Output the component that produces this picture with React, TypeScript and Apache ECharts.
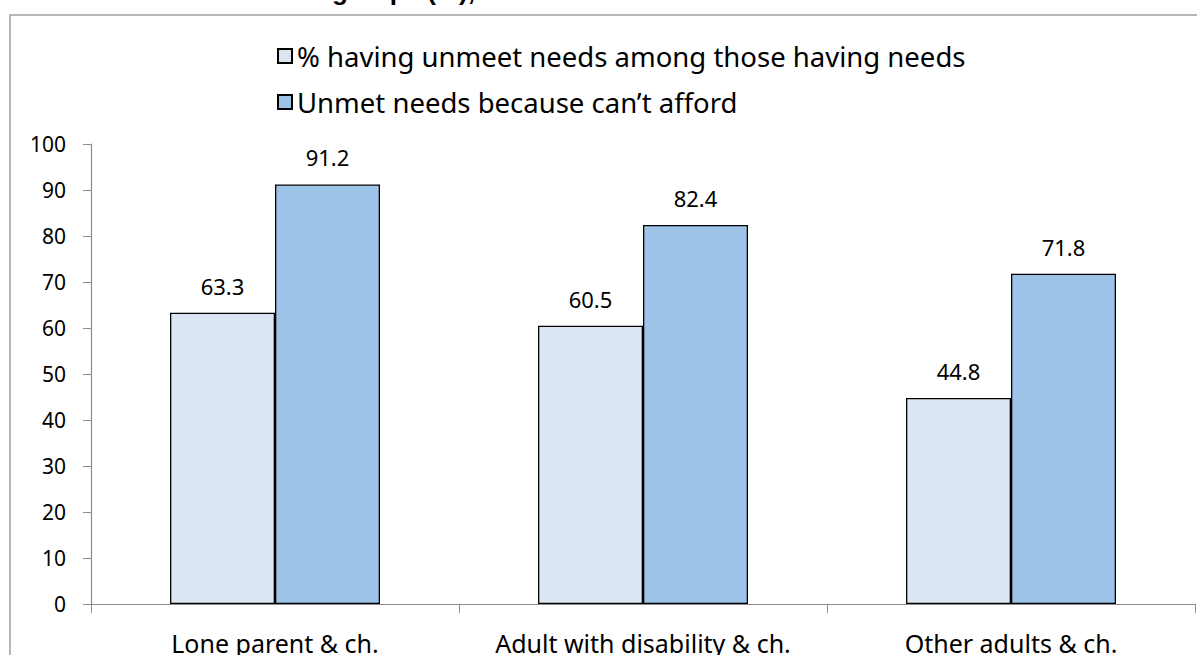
import React, { useEffect, useRef } from "react";
import * as echarts from "echarts";

const categories = ["Lone parent & ch.", "Adult with disability & ch.", "Other adults & ch."];
const seriesNames = ["% having unmeet needs among those having needs", "Unmet needs because can\u2019t afford"];
const unmetAmongNeeds = [63.3, 60.5, 44.8];
const cantAfford = [91.2, 82.4, 71.8];
const titleText = "Unmet needs across social groups (%), 2013";

const FONT = "'Noto Sans', 'Open Sans', sans-serif";

export default function App() {
  const ref = useRef<HTMLDivElement>(null);
  useEffect(() => {
    if (!ref.current) return;
    const chart = echarts.init(ref.current, undefined, { renderer: "svg" });
    const labelCommon = {
      show: true,
      position: "top",
      distance: 16,
      color: "#000",
      fontFamily: FONT,
      fontSize: 22,
      formatter: (p: any) => Number(p.value).toFixed(1),
    };
    chart.setOption({
      animation: false,
      backgroundColor: "#fff",
      graphic: [
        {
          type: "rect",
          shape: { x: 10, y: 15, width: 1250, height: 700 },
          style: { fill: "none", stroke: "#a0a0a0", lineWidth: 1.5 },
          silent: true,
          z: -1,
        },
        {
          type: "text",
          x: 540,
          y: -9.5,
          style: {
            text: titleText,
            fontFamily: "'Liberation Sans', Arial, sans-serif",
            fontWeight: "bold",
            fontSize: 26,
            fill: "#000",
            textAlign: "right",
            textVerticalAlign: "middle",
          },
        },
      ],
      legend: {
        orient: "vertical",
        left: 272,
        top: 37,
        itemWidth: 14,
        itemHeight: 14,
        itemGap: 18,
        icon: "rect",
        selectedMode: false,
        textStyle: { fontFamily: FONT, fontSize: 27.5, color: "#000", lineHeight: 28 },
        data: seriesNames,
      },
      grid: { left: 91, right: 2, top: 144, bottom: 47, containLabel: false },
      xAxis: {
        type: "category",
        data: categories,
        axisLine: { lineStyle: { color: "#8c8c8c", width: 1.2 } },
        axisTick: { show: true, length: 9, alignWithLabel: false, lineStyle: { color: "#8c8c8c" } },
        axisLabel: {
          color: "#000",
          fontFamily: FONT,
          fontSize: 25,
          margin: 26,
          lineHeight: 25,
          interval: 0,
        },
      },
      yAxis: {
        type: "value",
        min: 0,
        max: 100,
        interval: 10,
        axisLine: { show: true, lineStyle: { color: "#8c8c8c", width: 1.2 } },
        axisTick: { show: true, length: 8, lineStyle: { color: "#8c8c8c" } },
        splitLine: { show: false },
        axisLabel: { color: "#000", fontFamily: FONT, fontSize: 21, margin: 25 },
      },
      series: [
        {
          name: seriesNames[0],
          type: "bar",
          data: unmetAmongNeeds,
          barWidth: 105,
          barGap: "0%",
          itemStyle: { color: "#DCE6F2", borderColor: "#000", borderWidth: 1.3 },
          label: labelCommon,
        },
        {
          name: seriesNames[1],
          type: "bar",
          data: cantAfford,
          barWidth: 105,
          barGap: "0%",
          itemStyle: { color: "#9DC3E6", borderColor: "#000", borderWidth: 1.3 },
          label: labelCommon,
        },
      ],
    });
    return () => chart.dispose();
  }, []);
  return (
    <div
      ref={ref}
      style={{ position: "fixed", left: 0, top: 0, width: 1197, height: 655, background: "#fff" }}
    />
  );
}
